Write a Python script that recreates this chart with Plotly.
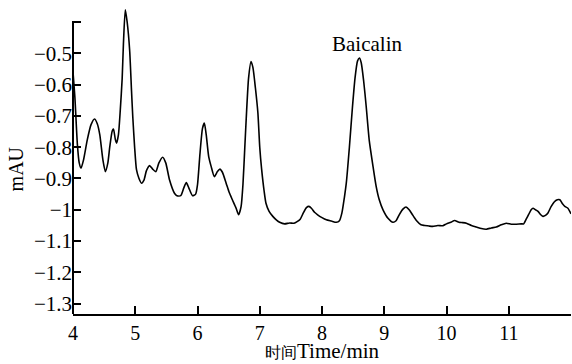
import plotly.graph_objects as go

# Chromatogram trace (retention time in min, absorbance in mAU)
time_min = [
    4.00, 4.03, 4.07, 4.10, 4.13, 4.17, 4.23, 4.29, 4.345, 4.39, 4.43, 4.48, 4.52, 4.56, 4.59,
    4.63, 4.65, 4.68, 4.70, 4.73, 4.76, 4.79, 4.81, 4.84, 4.87, 4.91, 4.94, 4.96, 4.99, 5.02,
    5.06, 5.10, 5.14, 5.18, 5.23, 5.28, 5.33, 5.38, 5.44, 5.49, 5.55, 5.63, 5.67, 5.73, 5.78,
    5.82, 5.86, 5.92, 5.97, 6.00, 6.04, 6.08, 6.11, 6.14, 6.18, 6.22, 6.27, 6.32, 6.36, 6.40,
    6.46, 6.51, 6.56, 6.62, 6.66, 6.70, 6.73, 6.76, 6.79, 6.82, 6.86, 6.89, 6.93, 6.97, 7.00,
    7.03, 7.07, 7.10, 7.15, 7.21, 7.27, 7.32, 7.40, 7.48, 7.55, 7.60, 7.65, 7.70, 7.75, 7.79,
    7.83, 7.88, 7.93, 8.00, 8.07, 8.15, 8.23, 8.28, 8.32, 8.36, 8.39, 8.44, 8.49, 8.53, 8.57,
    8.60, 8.63, 8.67, 8.71, 8.76, 8.82, 8.87, 8.92, 8.98, 9.06, 9.14, 9.19, 9.24, 9.30, 9.35,
    9.40, 9.46, 9.52, 9.59, 9.65, 9.72, 9.78, 9.86, 9.94, 10.00, 10.07, 10.13, 10.20, 10.26, 10.32,
    10.40, 10.48, 10.56, 10.64, 10.72, 10.80, 10.88, 10.96, 11.04, 11.12, 11.20, 11.24, 11.28, 11.32, 11.36,
    11.39, 11.43, 11.47, 11.51, 11.55, 11.59, 11.63, 11.68, 11.73, 11.78, 11.82, 11.86, 11.90, 11.95, 12.00,
]
signal_mau = [
    -0.560, -0.640, -0.790, -0.850, -0.867, -0.840, -0.776, -0.728, -0.710, -0.725, -0.760, -0.840, -0.878, -0.850, -0.800,
    -0.748, -0.742, -0.775, -0.787, -0.760, -0.680, -0.580, -0.470, -0.361, -0.400, -0.490, -0.620, -0.702, -0.800, -0.872,
    -0.900, -0.915, -0.905, -0.875, -0.859, -0.870, -0.878, -0.850, -0.832, -0.850, -0.904, -0.947, -0.955, -0.955, -0.930,
    -0.913, -0.930, -0.955, -0.950, -0.920, -0.820, -0.740, -0.723, -0.760, -0.830, -0.862, -0.894, -0.878, -0.870, -0.880,
    -0.915, -0.945, -0.968, -0.995, -1.016, -0.990, -0.920, -0.800, -0.680, -0.580, -0.526, -0.545, -0.610, -0.690, -0.800,
    -0.870, -0.940, -0.979, -1.005, -1.021, -1.033, -1.040, -1.045, -1.042, -1.043, -1.038, -1.030, -1.010, -0.993, -0.989,
    -0.995, -1.008, -1.016, -1.025, -1.032, -1.036, -1.040, -1.035, -1.010, -0.960, -0.915, -0.800, -0.670, -0.580, -0.525,
    -0.515, -0.530, -0.590, -0.670, -0.780, -0.862, -0.925, -0.968, -1.000, -1.027, -1.040, -1.035, -1.016, -0.998, -0.991,
    -1.000, -1.018, -1.035, -1.048, -1.050, -1.052, -1.053, -1.050, -1.051, -1.045, -1.040, -1.034, -1.040, -1.041, -1.043,
    -1.050, -1.055, -1.060, -1.062, -1.058, -1.055, -1.048, -1.043, -1.046, -1.046, -1.045, -1.045, -1.030, -1.015, -1.000,
    -0.995, -1.000, -1.005, -1.015, -1.021, -1.018, -1.010, -0.990, -0.975, -0.968, -0.968, -0.980, -0.989, -0.995, -1.013,
]

x_tick_vals = [4, 5, 6, 7, 8, 9, 10, 11, 12]
x_tick_text = ["4", "5", "6", "7", "8", "9", "10", "11", ""]
y_tick_vals = [-1.3, -1.2, -1.1, -1.0, -0.9, -0.8, -0.7, -0.6, -0.5, -0.4]
y_tick_text = ["\u22121.3", "\u22121.2", "\u22121.1", "\u22121", "\u22120.9", "\u22120.8",
               "\u22120.7", "\u22120.6", "\u22120.5", ""]

x_title = "<span style='font-size:16px'>时间</span>Time/min"
y_title = "mAU"
peak_label = "Baicalin"
peak_time = 8.60
peak_value = -0.515

y_axis_min = -1.333
y_axis_top = -0.397

serif = "Liberation Serif"

fig = go.Figure()
fig.add_trace(go.Scatter(
    x=time_min, y=signal_mau, mode="lines",
    line=dict(color="black", width=1.6, shape="spline", smoothing=0.6),
    showlegend=False, hoverinfo="skip",
))

fig.update_layout(
    width=572, height=364,
    margin=dict(l=73, r=1, t=7, b=50, pad=0),
    paper_bgcolor="white", plot_bgcolor="white",
    font=dict(family=serif, size=20, color="black"),
    xaxis=dict(
        range=[4, 12], tickvals=x_tick_vals, ticktext=x_tick_text,
        ticks="inside", ticklen=8, tickwidth=2, tickcolor="black",
        showline=True, linecolor="black", linewidth=2,
        showgrid=False, zeroline=False, automargin=False,
        tickfont=dict(family=serif, size=20),
    ),
    yaxis=dict(
        range=[y_axis_min, -0.352], tickvals=y_tick_vals, ticktext=y_tick_text,
        ticks="inside", ticklen=8, tickwidth=2, tickcolor="black",
        showline=False, showgrid=False, zeroline=False, automargin=False,
        tickfont=dict(family=serif, size=21),
    ),
    shapes=[dict(type="line", xref="paper", yref="y", x0=0, x1=0,
                 y0=y_axis_min, y1=y_axis_top,
                 line=dict(color="black", width=2), layer="above")],
    annotations=[
        dict(text=peak_label, x=peak_time, y=peak_value, xref="x", yref="y",
             showarrow=False, yanchor="bottom", xshift=8, yshift=0,
             font=dict(family=serif, size=21)),
        dict(text=y_title, xref="paper", yref="y", x=0, y=-0.871,
             xanchor="center", yanchor="middle", xshift=-57, textangle=-90,
             showarrow=False, font=dict(family=serif, size=20)),
        dict(text=x_title, xref="paper", yref="paper", x=0.5, y=0,
             xanchor="center", yanchor="middle", yshift=-37,
             showarrow=False, font=dict(family=serif, size=21)),
    ],
)

fig.write_html("out.html", config={"displayModeBar": False},
               post_script="document.body.style.margin='0px';")
